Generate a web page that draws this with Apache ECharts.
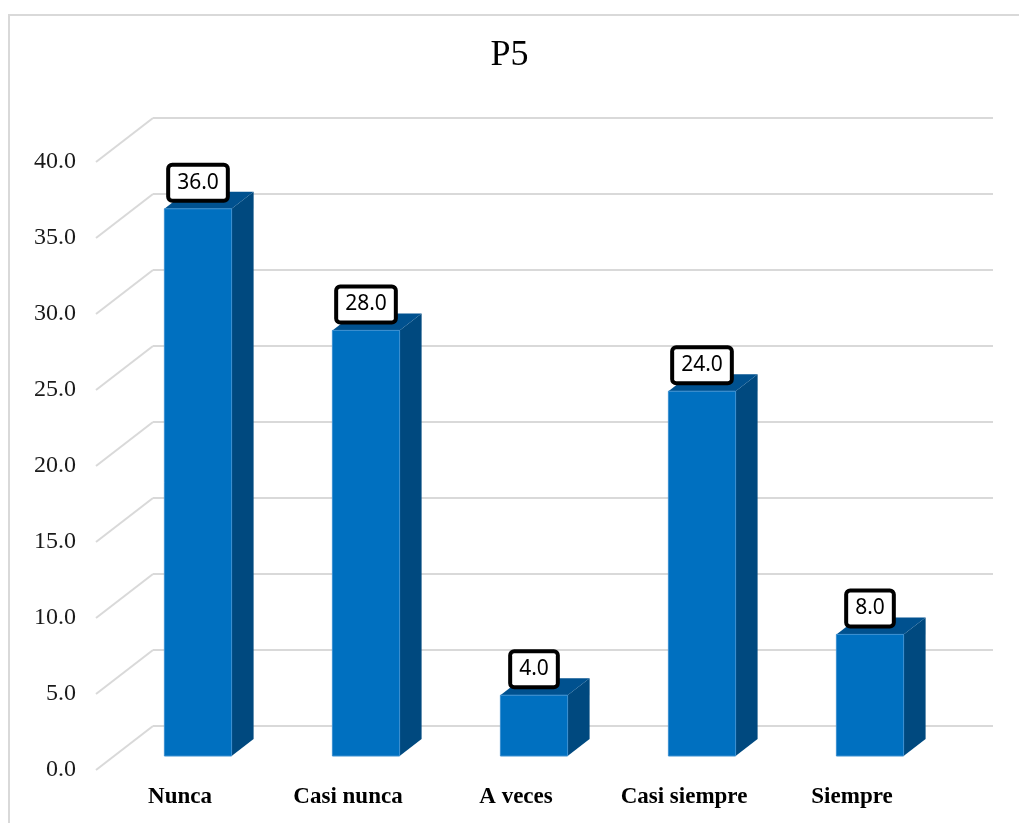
<!DOCTYPE html>
<html>
<head>
<meta charset="utf-8">
<script src="https://cdn.jsdelivr.net/npm/echarts@6/dist/echarts.min.js"></script>
<style>
  html, body { margin: 0; padding: 0; background: #ffffff; }
  #chart { width: 1019px; height: 823px; }
</style>
</head>
<body>
<div id="chart"></div>
<script>
// Survey item P5: percentage of answers per frequency option
const title = 'P5';
const categories = ['Nunca', 'Casi nunca', 'A veces', 'Casi siempre', 'Siempre'];
const percentages = [36.0, 28.0, 4.0, 24.0, 8.0];
const yTicks = [0, 5, 10, 15, 20, 25, 30, 35, 40];

// Depth of the 3D box (floor → back wall) and of each bar block
const WALL_DX = 57, WALL_DY = -44;
const BAR_DX = 22, BAR_DY = -17;

const chart = echarts.init(document.getElementById('chart'), null, { renderer: 'canvas' });

const serif = '"Liberation Serif", "Times New Roman", serif';
const sans = '"Noto Sans", "Open Sans", Arial, sans-serif';

const valueAxisBase = {
  type: 'value', min: 0, max: 40, interval: 5,
  axisLine: { show: false }, axisTick: { show: false }
};

const option = {
  backgroundColor: '#ffffff',
  animation: false,
  title: {
    text: title, left: 'center', top: 33,
    textStyle: { fontFamily: serif, fontSize: 36, fontWeight: 'normal', color: '#000' }
  },
  graphic: [{
    type: 'rect', shape: { x: 9, y: 15, width: 1030, height: 830 },
    style: { fill: 'none', stroke: '#d9d9d9', lineWidth: 2 }, silent: true, z: 0
  }],
  grid: [
    // front plane: value labels and category labels
    { left: 96, width: 840, top: 162, height: 608 },
    // back wall: horizontal gridlines
    { left: 153, width: 840, top: 118, height: 608 },
    // plane through the front faces of the bars
    { left: 114, width: 840, top: 148, height: 608 }
  ],
  xAxis: [
    {
      gridIndex: 0, type: 'category', data: categories,
      axisLine: { show: false }, axisTick: { show: false },
      axisLabel: { margin: 16, fontFamily: serif, fontSize: 23, fontWeight: 'bold', color: '#000' }
    },
    { gridIndex: 1, type: 'category', data: categories, show: false },
    { gridIndex: 2, type: 'category', data: categories, show: false }
  ],
  yAxis: [
    Object.assign({}, valueAxisBase, {
      gridIndex: 0, splitLine: { show: false },
      axisLabel: {
        margin: 20, fontFamily: serif, fontSize: 24, color: '#1a1a1a',
        formatter: v => v.toFixed(1)
      }
    }),
    Object.assign({}, valueAxisBase, {
      gridIndex: 1, axisLabel: { show: false },
      splitLine: { show: true, lineStyle: { color: '#d9d9d9', width: 2 } }
    }),
    Object.assign({}, valueAxisBase, {
      gridIndex: 2, axisLabel: { show: false }, splitLine: { show: false }
    })
  ],
  series: [
    {
      // side-wall diagonals linking each back gridline to the front axis
      type: 'custom', xAxisIndex: 1, yAxisIndex: 1, silent: true, z: 1,
      data: yTicks.map(v => [0, v]),
      renderItem: function (params, api) {
        const p = api.coord([0, api.value(1)]);
        const x0 = params.coordSys.x;
        return {
          type: 'line',
          shape: { x1: x0, y1: p[1], x2: x0 - WALL_DX, y2: p[1] - WALL_DY },
          style: { stroke: '#d9d9d9', lineWidth: 2 }
        };
      }
    },
    {
      // 3D bars with value boxes
      type: 'custom', xAxisIndex: 2, yAxisIndex: 2, z: 5,
      data: percentages.map((v, i) => [i, v]),
      renderItem: function (params, api) {
        const i = api.value(0), v = api.value(1);
        const top = api.coord([i, v]);
        const base = api.coord([i, 0]);
        const w = api.size([1, 0])[0] * 0.4;
        const xl = top[0] - w / 2, xr = top[0] + w / 2;
        const yt = top[1], yb = base[1];
        return {
          type: 'group',
          children: [
            {
              type: 'polygon',
              shape: { points: [[xr, yt], [xr + BAR_DX, yt + BAR_DY], [xr + BAR_DX, yb + BAR_DY], [xr, yb]] },
              style: { fill: '#00497f' }
            },
            {
              type: 'polygon',
              shape: { points: [[xl, yt], [xl + BAR_DX, yt + BAR_DY], [xr + BAR_DX, yt + BAR_DY], [xr, yt]] },
              style: { fill: '#00518f' }
            },
            {
              type: 'rect',
              shape: { x: xl, y: yt, width: w, height: yb - yt },
              style: { fill: '#0070c0', stroke: '#3a8fd0', lineWidth: 1 }
            },
            {
              type: 'text',
              x: top[0], y: yt - 26,
              style: {
                text: v.toFixed(1),
                align: 'center', verticalAlign: 'middle',
                fontFamily: sans, fontSize: 21, fill: '#000',
                backgroundColor: '#fff', borderColor: '#000', borderWidth: 4,
                borderRadius: 2, padding: [6, 7, 5, 7]
              },
              z2: 10
            }
          ]
        };
      }
    }
  ]
};

chart.setOption(option);
</script>
</body>
</html>
